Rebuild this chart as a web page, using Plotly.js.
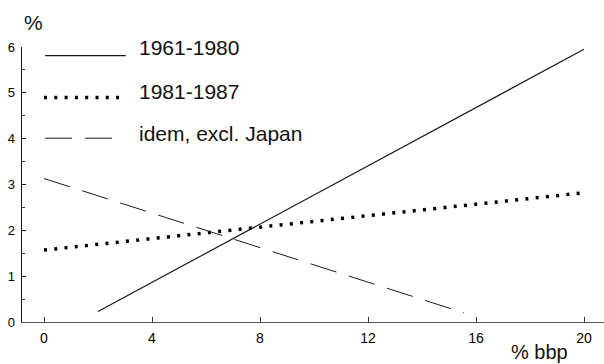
<!DOCTYPE html>
<html>
<head>
<meta charset="utf-8">
<script src="https://cdn.plot.ly/plotly-3.0.1.min.js"></script>
<style>
html,body{margin:0;padding:0;background:#fff;}
#chart{width:604px;height:364px;}
</style>
</head>
<body>
<div id="chart"></div>
<script>
// Series names
const seriesNames = ["1961-1980", "1981-1987", "idem, excl. Japan"];
// Series values (x = % bbp, y = %)
const x1961 = [2, 20];
const y1961 = [0.23, 5.95];
const x1981 = [0, 20];
const y1981 = [1.57, 2.82];
const xExclJapan = [0, 15.55];
const yExclJapan = [3.13, 0.2];
// Tick labels
const xTickVals = [0, 4, 8, 12, 16, 20];
const xTickText = ["0", "4", "8", "12", "16", "20"];
const yTickVals = [0, 1, 2, 3, 4, 5, 6];
const yTickText = ["0", "1", "2", "3", "4", "5", "6"];
const yAxisTitle = "%";
const xAxisTitle = "% bbp";

const FONT = "Liberation Sans, Arial, Helvetica, sans-serif";
const styles = [
  {color: "#1a1a1a", width: 1.2, dash: "solid"},
  {color: "#000000", width: 3.5, dash: "3px,7.3px"},
  {color: "#1a1a1a", width: 1, dash: "27px,13px"}
];

const xs = [x1961, x1981, xExclJapan];
const ys = [y1961, y1981, yExclJapan];

const traces = seriesNames.map((name, i) => ({
  type: "scatter",
  mode: "lines",
  name: name,
  x: xs[i],
  y: ys[i],
  line: styles[i],
  showlegend: false,
  hoverinfo: "skip"
}));

// Custom legend (layout decoration)
const legendRows = [
  {x0: 0.04, x1: 3.03, y: 5.81, ty: 5.99},
  {x0: 0.0, x1: 2.78, y: 4.90, ty: 5.02},
  {x0: 0.04, x1: 2.56, y: 4.01, ty: 4.12}
];
const shapes = legendRows.map((r, i) => ({
  type: "line", xref: "x", yref: "y",
  x0: r.x0, x1: r.x1, y0: r.y, y1: r.y,
  line: styles[i]
}));
const annotations = legendRows.map((r, i) => ({
  xref: "x", yref: "y", x: 3.44, y: r.ty,
  text: seriesNames[i], showarrow: false,
  xanchor: "left", yanchor: "middle",
  font: {family: FONT, size: 21, color: "#111"}
}));
annotations.push({
  xref: "paper", yref: "paper", x: (33 - 22) / 582, y: (322 - 22.5) / 275,
  text: yAxisTitle, showarrow: false, xanchor: "center", yanchor: "middle",
  font: {family: FONT, size: 21, color: "#111"}
});
annotations.push({
  xref: "paper", yref: "paper", x: (539 - 22) / 582, y: (322 - 352) / 275,
  text: xAxisTitle, showarrow: false, xanchor: "center", yanchor: "middle",
  font: {family: FONT, size: 20, color: "#111"}
});

const layout = {
  width: 604, height: 364,
  margin: {l: 22, r: 0, t: 47, b: 42, pad: 0},
  paper_bgcolor: "#fff", plot_bgcolor: "#fff",
  showlegend: false,
  font: {family: FONT, color: "#111"},
  xaxis: {
    range: [-0.815, 20.74],
    tickvals: xTickVals, ticktext: xTickText,
    ticks: "inside", ticklen: 5, tickcolor: "#333", tickwidth: 1,
    showline: true, linecolor: "#555", linewidth: 1,
    showgrid: false, zeroline: false,
    tickfont: {family: FONT, size: 14, color: "#000"},
    ticklabelstandoff: 3
  },
  yaxis: {
    range: [0, 6],
    tickvals: yTickVals, ticktext: yTickText,
    ticks: "inside", ticklen: 4, tickcolor: "#111", tickwidth: 1,
    minor: {dtick: 0.5, ticks: "inside", ticklen: 3, tickcolor: "#333", showgrid: false},
    showline: true, linecolor: "#111", linewidth: 1.3,
    showgrid: false, zeroline: false,
    tickfont: {family: FONT, size: 13, color: "#000"},
    ticklabelstandoff: 3
  },
  shapes: shapes,
  annotations: annotations
};

Plotly.newPlot("chart", traces, layout, {staticPlot: true, displayModeBar: false});
</script>
</body>
</html>
